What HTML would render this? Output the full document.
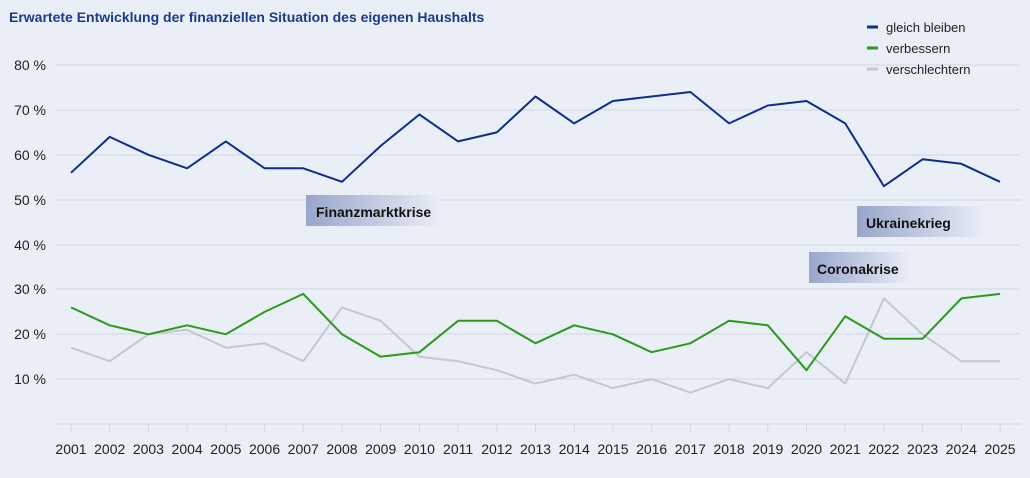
<!DOCTYPE html>
<html><head><meta charset="utf-8"><style>
body{margin:0;background:#eaeef7}
svg{display:block;font-family:"Liberation Sans",sans-serif}
</style></head><body>
<svg width="1030" height="478" viewBox="0 0 1030 478">
<rect width="1030" height="478" fill="#eaeef7"/>
<defs>
<linearGradient id="g" x1="0" x2="1"><stop offset="0" stop-color="#98a6cb"/><stop offset="1" stop-color="#eaeef7"/></linearGradient>
</defs>
<text x="9" y="22" font-size="14" font-weight="bold" fill="#1a3a8c">Erwartete Entwicklung der finanziellen Situation des eigenen Haushalts</text>
<g stroke="#d2d6e0" stroke-width="1">
<line x1="55" x2="1020" y1="65" y2="65"/><line x1="55" x2="1020" y1="110" y2="110"/>
<line x1="55" x2="1020" y1="155" y2="155"/><line x1="55" x2="1020" y1="200" y2="200"/>
<line x1="55" x2="1020" y1="245" y2="245"/><line x1="55" x2="1020" y1="289" y2="289"/>
<line x1="55" x2="1020" y1="334" y2="334"/><line x1="55" x2="1020" y1="379" y2="379"/>
<line x1="55" x2="1020" y1="424" y2="424"/>
</g>
<g id="ticks" stroke="#d2d6e0" stroke-width="1"></g>
<g font-size="14" fill="#222" text-anchor="end">
<text x="46" y="70">80 %</text><text x="46" y="115">70 %</text><text x="46" y="160">60 %</text>
<text x="46" y="205">50 %</text><text x="46" y="250">40 %</text><text x="46" y="294">30 %</text>
<text x="46" y="339">20 %</text><text x="46" y="384">10 %</text>
</g>
<g id="yrs" font-size="14" fill="#222" text-anchor="middle"></g>
<rect x="306" y="195" width="136" height="31" fill="url(#g)"/>
<text x="316" y="217" font-size="14" font-weight="bold" fill="#111">Finanzmarktkrise</text>
<rect x="809" y="252" width="102" height="31" fill="url(#g)"/>
<text x="817" y="274" font-size="14" font-weight="bold" fill="#111">Coronakrise</text>
<rect x="857" y="206" width="130" height="31" fill="url(#g)"/>
<text x="866" y="228" font-size="14" font-weight="bold" fill="#111">Ukrainekrieg</text>
<g id="lines" fill="none" stroke-width="2" stroke-linejoin="round"></g>
<g font-size="13" fill="#222">
<line x1="867" x2="878" y1="27" y2="27" stroke="#0d2f8a" stroke-width="3"/><text x="886" y="32">gleich bleiben</text>
<line x1="867" x2="878" y1="48" y2="48" stroke="#2a9a1a" stroke-width="3"/><text x="886" y="53">verbessern</text>
<line x1="867" x2="878" y1="69" y2="69" stroke="#c4c7ce" stroke-width="3"/><text x="886" y="74">verschlechtern</text>
</g>
</svg>
<script>
var ns="http://www.w3.org/2000/svg";
var d=[[ "#c4c7ce",[17,14,20,21,17,18,14,26,23,15,14,12,9,11,8,10,7,10,8,16,9,28,20,14,14]],
["#2a9a1a",[26,22,20,22,20,25,29,20,15,16,23,23,18,22,20,16,18,23,22,12,24,19,19,28,29]],
["#0d2f8a",[56,64,60,57,63,57,57,54,62,69,63,65,73,67,72,73,74,67,71,72,67,53,59,58,54]]];
var L=document.getElementById("lines"),Y=document.getElementById("yrs"),T=document.getElementById("ticks");
function X(i){return 71+i*38.71}
d.forEach(function(s){var p=document.createElementNS(ns,"polyline");
p.setAttribute("points",s[1].map(function(v,i){return X(i).toFixed(1)+","+(424-4.486*v).toFixed(1)}).join(" "));
p.setAttribute("stroke",s[0]);L.appendChild(p);});
for(var i=0;i<25;i++){var t=document.createElementNS(ns,"text");t.setAttribute("x",X(i));t.setAttribute("y",454);t.textContent=2001+i;Y.appendChild(t);
var k=document.createElementNS(ns,"line");k.setAttribute("x1",X(i));k.setAttribute("x2",X(i));k.setAttribute("y1",424);k.setAttribute("y2",432);T.appendChild(k);}
</script>
</body></html>
